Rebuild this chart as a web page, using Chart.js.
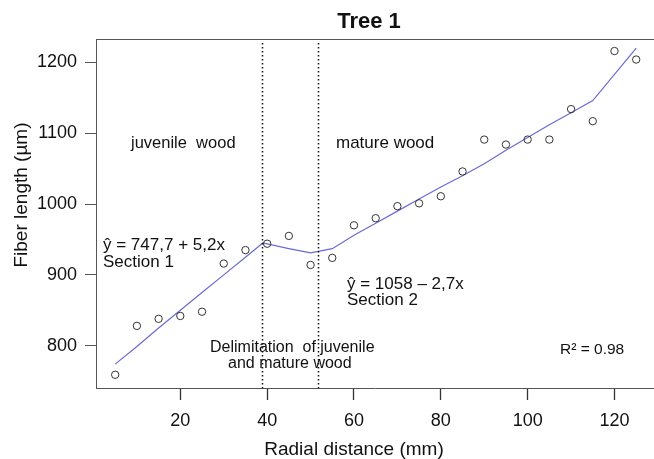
<!DOCTYPE html>
<html>
<head>
<meta charset="utf-8">
<script src="https://cdn.jsdelivr.net/npm/chart.js@4"></script>
<style>
  html, body { margin: 0; padding: 0; background: #fff; overflow: hidden; }
  #wrap { width: 654px; height: 459px; overflow: hidden; }
</style>
</head>
<body>
<div id="wrap"><canvas id="treeChart" width="659" height="459"></canvas></div>
<script>
// Datos
const radialDistance = [5, 10, 15, 20, 25, 30, 35, 40, 45, 50, 55, 60, 65, 70, 75, 80, 85, 90, 95, 100, 105, 110, 115, 120, 125];
const fiberLength = [759, 828, 838, 842, 848, 916, 935, 944, 955, 914, 924, 970, 980, 997, 1001, 1011, 1046, 1091, 1084, 1091, 1091, 1134, 1117, 1216, 1204];
const fittedX = [5, 10, 15, 20, 25, 30, 35, 39, 45, 50, 55, 60, 65, 70, 75, 80, 85, 90, 95, 100, 105, 110, 115, 125];
const fittedY = [774, 799, 825, 850, 875, 900, 925, 945, 937, 931, 937, 956, 973, 990, 1007, 1024, 1040, 1057, 1076, 1094, 1112, 1129, 1146, 1220];
const xTicks = [20, 40, 60, 80, 100, 120];
const yTicks = [800, 900, 1000, 1100, 1200];
const delimitation = [38.8, 51.8];  // límites madera juvenil / madura

const FONT = "'Liberation Sans', Arial, sans-serif";

// Textos y marco dibujados encima
const annotations = {
    id: 'annotations',
    afterDraw(chart) {
        const c = chart.ctx;
        const a = chart.chartArea;
        const xs = chart.scales.x;
        c.save();
        // marco superior
        c.strokeStyle = '#555';
        c.lineWidth = 1;
        c.beginPath();
        c.moveTo(a.left, a.top + 0.5);
        c.lineTo(a.right, a.top + 0.5);
        c.stroke();
        // líneas punteadas
        c.strokeStyle = '#111';
        c.lineWidth = 1.5;
        c.setLineDash([1.5, 2.5]);
        delimitation.forEach(v => {
            const px = Math.round(xs.getPixelForValue(v)) + 0.5;
            c.beginPath();
            c.moveTo(px, a.top + 4);
            c.lineTo(px, a.bottom);
            c.stroke();
        });
        c.setLineDash([]);
        c.fillStyle = '#111';
        c.textBaseline = 'middle';
        c.textAlign = 'left';
        c.font = '16.5px ' + FONT;
        c.fillText('juvenile  wood', 131, 143);
        c.font = '17px ' + FONT;
        c.fillText('mature wood', 336, 143);
        c.fillText('ŷ = 747,7 + 5,2x', 103, 245);
        c.fillText('Section 1', 103, 262);
        c.fillText('ŷ = 1058 – 2,7x', 347, 284);
        c.fillText('Section 2', 347, 300);
        c.font = '16px ' + FONT;
        c.fillText('Delimitation  of juvenile', 210, 348);
        c.fillText('and mature wood', 228, 364);
        c.font = '15.5px ' + FONT;
        c.fillText('R² = 0.98', 560, 350);
        // título
        c.textAlign = 'center';
        c.font = 'bold 22px ' + FONT;
        c.fillText('Tree 1', 369, 22);
        // títulos de ejes
        c.font = '19px ' + FONT;
        c.fillText('Radial distance (mm)', 354, 450);
        c.translate(22, 195);
        c.rotate(-Math.PI / 2);
        c.fillText('Fiber length (µm)', 0, 0);
        c.restore();
    }
};

const ctx = document.getElementById('treeChart').getContext('2d');
const chart = new Chart(ctx, {
    type: 'scatter',
    data: {
        datasets: [{
            label: 'Fitted',
            data: fittedX.map((x, i) => ({ x: x, y: fittedY[i] })),
            showLine: true,
            borderColor: '#6a6ad4',
            borderWidth: 1.2,
            pointRadius: 0,
            fill: false,
            order: 2
        }, {
            label: 'Fiber length',
            data: radialDistance.map((x, i) => ({ x: x, y: fiberLength[i] })),
            showLine: false,
            pointStyle: 'circle',
            pointRadius: 3.7,
            borderColor: '#333',
            backgroundColor: 'rgba(255,255,255,0)',
            borderWidth: 1,
            order: 1
        }]
    },
    options: {
        responsive: false,
        animation: false,
        layout: { padding: { left: 0, top: 39, right: 0, bottom: 0 } },
        plugins: {
            legend: { display: false },
            title: { display: false },
            tooltip: { enabled: false }
        },
        scales: {
            x: {
                type: 'linear',
                min: 0.58,
                max: 129.1,
                afterFit: s => { s.height = 71; },
                afterBuildTicks: s => { s.ticks = xTicks.map(v => ({ value: v })); },
                grid: { drawOnChartArea: false, drawTicks: true, tickLength: 12, color: '#333', tickWidth: 1.3 },
                border: { display: true, color: '#555', width: 1 },
                ticks: { color: '#111', font: { family: FONT, size: 18 }, padding: 10, maxRotation: 0 }
            },
            y: {
                type: 'linear',
                min: 740.3,
                max: 1233,
                afterFit: s => { s.width = 96; },
                afterBuildTicks: s => { s.ticks = yTicks.map(v => ({ value: v })); },
                grid: { drawOnChartArea: false, drawTicks: true, tickLength: 11, color: '#555', tickWidth: 1 },
                border: { display: true, color: '#555', width: 1 },
                ticks: { color: '#111', font: { family: FONT, size: 18 }, padding: 8, callback: v => String(v) }
            }
        }
    },
    plugins: [annotations]
});
</script>
</body>
</html>
